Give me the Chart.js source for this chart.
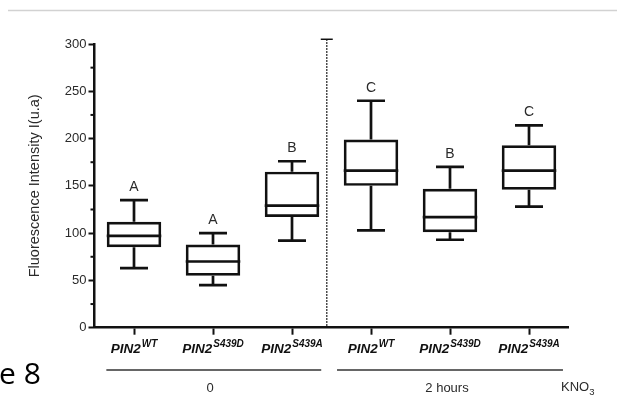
<!DOCTYPE html>
<html>
<head>
<meta charset="utf-8">
<script src="https://cdn.jsdelivr.net/npm/chart.js@4.4.1/dist/chart.umd.min.js"></script>
<style>
  body { margin: 0; background: #fff; }
  #wrap { position: relative; width: 617px; height: 404px; }
</style>
</head>
<body>
<div id="wrap"><canvas id="myChart" width="617" height="404"></canvas></div>
<script>
// data
const genotypes = ['WT', 'S439D', 'S439A', 'WT', 'S439D', 'S439A'];
const whiskerMin = [63, 45, 92, 103, 93, 128];
const q1 = [85, 55, 117, 150, 101, 146];
const median = [97, 70, 129, 166, 117, 166];
const q3 = [112, 88, 165, 199, 147, 193];
const whiskerMax = [135, 100, 176, 240, 170, 214];
const letters = ['A', 'A', 'B', 'C', 'B', 'C'];
const treatments = ['0', '2 hours'];
const yMax = 300;
const yStep = 25;

const ink = '#111';
const textCol = '#2a2a2a';
const lw = 2.7;

// whiskers, medians, letters, custom x labels
const boxExtras = {
    id: 'boxExtras',
    afterDatasetsDraw(chart) {
        const ctx = chart.ctx;
        const x = chart.scales.x;
        const y = chart.scales.y;
        const meta = chart.getDatasetMeta(0);
        ctx.save();
        ctx.strokeStyle = ink;
        ctx.lineWidth = lw;
        for (let i = 0; i < genotypes.length; i++) {
            const cx = x.getPixelForValue(i);
            const half = meta.data[i].width / 2;
            const cap = 14;
            ctx.beginPath();
            // median
            ctx.moveTo(cx - half, y.getPixelForValue(median[i]));
            ctx.lineTo(cx + half, y.getPixelForValue(median[i]));
            // upper whisker
            ctx.moveTo(cx, y.getPixelForValue(q3[i]));
            ctx.lineTo(cx, y.getPixelForValue(whiskerMax[i]));
            ctx.moveTo(cx - cap, y.getPixelForValue(whiskerMax[i]));
            ctx.lineTo(cx + cap, y.getPixelForValue(whiskerMax[i]));
            // lower whisker
            ctx.moveTo(cx, y.getPixelForValue(q1[i]));
            ctx.lineTo(cx, y.getPixelForValue(whiskerMin[i]));
            ctx.moveTo(cx - cap, y.getPixelForValue(whiskerMin[i]));
            ctx.lineTo(cx + cap, y.getPixelForValue(whiskerMin[i]));
            ctx.stroke();
            // letter
            ctx.fillStyle = textCol;
            ctx.font = '14px "Liberation Sans", Arial, sans-serif';
            ctx.textAlign = 'center';
            ctx.textBaseline = 'alphabetic';
            ctx.fillText(letters[i], cx, y.getPixelForValue(whiskerMax[i]) - 9);
        }
        ctx.restore();
    },
    afterDraw(chart) {
        const ctx = chart.ctx;
        const x = chart.scales.x;
        const y = chart.scales.y;
        const axisX = chart.chartArea.left;
        ctx.save();
        // minor ticks on y axis
        ctx.strokeStyle = ink;
        ctx.lineWidth = 2;
        for (let v = yStep; v < yMax; v += 2 * yStep) {
            const py = y.getPixelForValue(v);
            ctx.beginPath();
            ctx.moveTo(axisX - 4, py);
            ctx.lineTo(axisX, py);
            ctx.stroke();
        }
        // dotted divider
        const dx = x.getPixelForValue(2.44);
        ctx.lineWidth = 1.5;
        ctx.setLineDash([1.5, 1.5]);
        ctx.beginPath();
        ctx.moveTo(dx, y.getPixelForValue(305));
        ctx.lineTo(dx, y.getPixelForValue(0));
        ctx.stroke();
        ctx.setLineDash([]);
        ctx.beginPath();
        ctx.moveTo(dx - 6, y.getPixelForValue(305));
        ctx.lineTo(dx + 6, y.getPixelForValue(305));
        ctx.stroke();

        // category labels PIN2 with superscript
        for (let i = 0; i < genotypes.length; i++) {
            const cx = x.getPixelForValue(i);
            const mainFont = 'italic bold 13.5px "Liberation Sans", Arial, sans-serif';
            const supFont = 'italic bold 10px "Liberation Sans", Arial, sans-serif';
            ctx.font = mainFont;
            const w1 = ctx.measureText('PIN2').width;
            ctx.font = supFont;
            const w2 = ctx.measureText(genotypes[i]).width;
            const start = cx - (w1 + w2 + 1) / 2;
            ctx.fillStyle = ink;
            ctx.textAlign = 'left';
            ctx.textBaseline = 'alphabetic';
            ctx.font = mainFont;
            ctx.fillText('PIN2', start, 353);
            ctx.font = supFont;
            ctx.fillText(genotypes[i], start + w1 + 1, 347);
        }

        // group underlines and treatment labels
        ctx.strokeStyle = '#333';
        ctx.lineWidth = 1.5;
        const spans = [[-0.35, 2.37], [2.57, 5.43]];
        ctx.fillStyle = textCol;
        ctx.font = '13px "Liberation Sans", Arial, sans-serif';
        ctx.textAlign = 'center';
        spans.forEach((s, k) => {
            const a = x.getPixelForValue(s[0]);
            const b = x.getPixelForValue(s[1]);
            ctx.beginPath();
            ctx.moveTo(a, 370);
            ctx.lineTo(b, 370);
            ctx.stroke();
            ctx.fillText(treatments[k], x.getPixelForValue(k * 3 + 1) - 3, 392);
        });
        // KNO3
        ctx.textAlign = 'left';
        ctx.fillText('KNO', 561, 391);
        const kw = ctx.measureText('KNO').width;
        ctx.font = '9.5px "Liberation Sans", Arial, sans-serif';
        ctx.fillText('3', 561 + kw, 395);

        // page leftovers: top rule and cut "Figure 8" caption
        ctx.strokeStyle = '#d2d2d2';
        ctx.lineWidth = 1.5;
        ctx.beginPath();
        ctx.moveTo(8, 10.5);
        ctx.lineTo(617, 10.5);
        ctx.stroke();
        ctx.fillStyle = '#000';
        ctx.font = '30px "Open Sans", sans-serif';
        ctx.fillText('e 8', -1, 384);
        ctx.restore();
    }
};

const labels = genotypes.map(g => 'PIN2 ' + g);

new Chart(document.getElementById('myChart'), {
    type: 'bar',
    data: {
        labels: labels,
        datasets: [{
            data: q1.map((v, i) => [v, q3[i]]),
            backgroundColor: 'rgba(0,0,0,0)',
            borderColor: ink,
            borderWidth: lw,
            borderSkipped: false,
            barPercentage: 0.69,
            categoryPercentage: 1.0
        }]
    },
    options: {
        responsive: false,
        animation: false,
        layout: { padding: { left: 0, top: 44, right: 48.5, bottom: 0 } },
        plugins: {
            legend: { display: false },
            tooltip: { enabled: false }
        },
        scales: {
            x: {
                offset: true,
                grid: {
                    offset: false,
                    drawOnChartArea: false,
                    tickLength: 7,
                    tickWidth: 2,
                    tickColor: ink
                },
                border: { color: ink, width: 2.5 },
                ticks: { display: false },
                afterFit: s => { s.height = 76.3; }
            },
            y: {
                min: 0,
                max: yMax,
                ticks: {
                    stepSize: yStep,
                    autoSkip: false,
                    padding: 2,
                    color: textCol,
                    font: { family: '"Liberation Sans", Arial, sans-serif', size: 13 },
                    callback: v => (v % 50 === 0 ? v : '')
                },
                grid: {
                    drawOnChartArea: false,
                    tickLength: 6,
                    tickWidth: 2,
                    tickColor: c => (c.tick && c.tick.value % 50 === 0 ? ink : 'rgba(0,0,0,0)')
                },
                border: { color: ink, width: 2.5 },
                title: {
                    display: true,
                    text: 'Fluorescence Intensity I(u.a)',
                    color: textCol,
                    font: { family: '"Liberation Sans", Arial, sans-serif', size: 14.5 },
                    padding: { top: 26, bottom: 0 }
                },
                afterFit: s => { s.width = 94.5; }
            }
        }
    },
    plugins: [boxExtras]
});
</script>
</body>
</html>
